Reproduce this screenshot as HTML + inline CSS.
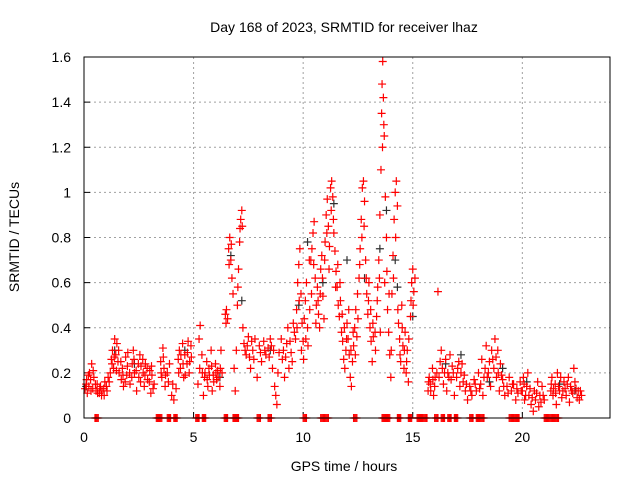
<!DOCTYPE html>
<html><head><meta charset="utf-8"><style>
body{margin:0;background:#fff;}
svg{display:block;font-family:"Liberation Sans",sans-serif;}
</style></head><body>
<svg id="chart" width="640" height="480">
<text x="344" y="32" font-size="14" text-anchor="middle">Day 168 of 2023, SRMTID for receiver lhaz</text>
<text x="344" y="471" font-size="14" text-anchor="middle">GPS time / hours</text>
<text transform="translate(19,237) rotate(-90)" font-size="14" text-anchor="middle">SRMTID / TECUs</text>
<g id="grid"></g><g id="ticks"></g><g id="marks"></g>
<rect x="84" y="57" width="526" height="361" fill="none" stroke="#000" stroke-width="1"/>
</svg>
<script>
const xTicks=[0,5,10,15,20];
const yTicks=[0,0.2,0.4,0.6,0.8,1,1.2,1.4,1.6];
const yTickLabels=["0","0.2","0.4","0.6","0.8","1","1.2","1.4","1.6"];
const redPoints=[[0.05,0.13],[0.1,0.15],[0.15,0.11],[0.2,0.19],[0.25,0.2],[0.3,0.17],[0.35,0.24],[0.4,0.13],[0.45,0.18],[0.55,0.12],[0.6,0.15],[0.7,0.11],[0.75,0.14],[0.8,0.1],[0.9,0.13],[0.95,0.16],[1.05,0.12],[1.1,0.18],[1.2,0.2],[1.25,0.26],[1.3,0.3],[1.35,0.22],[1.4,0.35],[1.45,0.28],[1.5,0.33],[1.55,0.25],[1.6,0.2],[1.7,0.17],[1.75,0.22],[1.8,0.14],[1.9,0.27],[1.95,0.19],[2.0,0.29],[2.1,0.15],[2.2,0.24],[2.25,0.3],[2.3,0.2],[2.4,0.12],[2.5,0.18],[2.55,0.28],[2.6,0.23],[2.7,0.2],[2.75,0.14],[2.8,0.24],[2.9,0.17],[3.0,0.21],[3.05,0.11],[3.1,0.19],[3.2,0.15],[3.5,0.25],[3.55,0.18],[3.6,0.31],[3.65,0.22],[3.7,0.14],[3.8,0.2],[3.9,0.24],[4.0,0.1],[4.05,0.15],[4.1,0.08],[4.2,0.13],[4.3,0.26],[4.35,0.3],[4.4,0.22],[4.5,0.33],[4.55,0.18],[4.6,0.28],[4.7,0.24],[4.75,0.34],[4.8,0.2],[4.9,0.27],[5.2,0.15],[5.25,0.35],[5.3,0.41],[5.4,0.2],[5.45,0.1],[5.5,0.18],[5.6,0.25],[5.65,0.14],[5.7,0.22],[5.8,0.3],[5.85,0.12],[5.9,0.19],[6.0,0.24],[6.05,0.17],[6.1,0.21],[6.2,0.14],[6.25,0.3],[6.3,0.2],[6.45,0.46],[6.5,0.48],[6.55,0.44],[6.6,0.75],[6.65,0.8],[6.7,0.7],[6.75,0.62],[6.8,0.55],[6.85,0.22],[6.9,0.12],[6.95,0.3],[7.0,0.5],[7.05,0.66],[7.1,0.78],[7.15,0.88],[7.2,0.92],[7.25,0.4],[7.3,0.33],[7.4,0.28],[7.5,0.36],[7.6,0.22],[7.7,0.3],[7.8,0.35],[7.9,0.18],[8.0,0.32],[8.1,0.25],[8.2,0.34],[8.3,0.28],[8.4,0.31],[8.5,0.35],[8.6,0.22],[8.7,0.14],[8.75,0.1],[8.8,0.06],[8.85,0.2],[8.9,0.29],[9.0,0.35],[9.1,0.3],[9.15,0.18],[9.2,0.27],[9.3,0.4],[9.35,0.22],[9.4,0.34],[9.5,0.25],[9.55,0.42],[9.6,0.38],[9.7,0.48],[9.75,0.6],[9.8,0.68],[9.85,0.75],[9.9,0.55],[9.95,0.42],[10.0,0.34],[10.05,0.44],[10.1,0.52],[10.15,0.6],[10.2,0.4],[10.3,0.48],[10.35,0.7],[10.4,0.75],[10.45,0.82],[10.5,0.87],[10.55,0.62],[10.6,0.5],[10.65,0.58],[10.7,0.46],[10.75,0.4],[10.8,0.66],[10.85,0.72],[10.9,0.54],[10.95,0.44],[11.0,0.78],[11.05,0.9],[11.1,0.97],[11.15,0.85],[11.2,0.76],[11.25,1.02],[11.3,1.05],[11.35,0.98],[11.4,0.82],[11.45,0.74],[11.5,0.65],[11.55,0.58],[11.6,0.5],[11.65,0.45],[11.7,0.52],[11.75,0.38],[11.8,0.34],[11.85,0.26],[11.9,0.22],[11.95,0.3],[12.0,0.42],[12.05,0.35],[12.1,0.28],[12.15,0.18],[12.2,0.14],[12.25,0.25],[12.3,0.32],[12.35,0.4],[12.4,0.48],[12.45,0.36],[12.5,0.44],[12.55,0.62],[12.6,0.75],[12.65,0.88],[12.7,1.02],[12.75,1.05],[12.8,0.96],[12.85,0.7],[12.9,0.55],[12.95,0.46],[13.0,0.6],[13.05,0.4],[13.1,0.34],[13.15,0.25],[13.2,0.36],[13.3,0.3],[13.35,0.45],[13.4,0.58],[13.45,0.7],[13.5,0.9],[13.55,1.1],[13.58,1.35],[13.6,1.48],[13.63,1.58],[13.66,1.42],[13.7,1.25],[13.75,0.98],[13.8,0.8],[13.85,0.48],[13.9,0.38],[13.95,0.28],[14.0,0.18],[14.05,0.55],[14.1,0.72],[14.15,0.88],[14.2,1.0],[14.25,1.05],[14.3,0.94],[14.35,0.42],[14.4,0.35],[14.45,0.25],[14.5,0.5],[14.55,0.32],[14.6,0.22],[14.65,0.38],[14.7,0.2],[14.75,0.3],[14.8,0.16],[14.9,0.45],[14.95,0.6],[15.0,0.66],[15.05,0.56],[15.1,0.62],[15.7,0.12],[15.75,0.18],[15.8,0.15],[15.9,0.22],[15.95,0.1],[16.0,0.14],[16.1,0.2],[16.15,0.56],[16.2,0.18],[16.3,0.3],[16.35,0.22],[16.4,0.15],[16.5,0.26],[16.55,0.12],[16.6,0.2],[16.7,0.28],[16.75,0.17],[16.8,0.23],[16.9,0.1],[17.0,0.18],[17.1,0.25],[17.15,0.14],[17.2,0.2],[17.3,0.16],[17.4,0.12],[17.5,0.08],[17.6,0.14],[17.7,0.1],[17.8,0.17],[17.9,0.12],[18.0,0.2],[18.1,0.15],[18.15,0.26],[18.2,0.1],[18.3,0.22],[18.35,0.32],[18.4,0.18],[18.5,0.25],[18.55,0.14],[18.6,0.3],[18.7,0.22],[18.75,0.35],[18.8,0.27],[18.9,0.2],[18.95,0.12],[19.0,0.24],[19.1,0.17],[19.2,0.1],[19.3,0.14],[19.4,0.18],[19.5,0.12],[19.6,0.15],[19.7,0.08],[19.8,0.11],[19.9,0.16],[20.0,0.12],[20.05,0.18],[20.1,0.08],[20.2,0.14],[20.25,0.2],[20.3,0.1],[20.4,0.06],[20.5,0.03],[20.55,0.12],[20.6,0.08],[20.7,0.16],[20.75,0.05],[20.8,0.1],[20.9,0.14],[21.0,0.08],[21.3,0.12],[21.35,0.18],[21.4,0.1],[21.5,0.15],[21.55,0.06],[21.6,0.2],[21.7,0.12],[21.8,0.09],[21.9,0.16],[21.95,0.13],[22.0,0.1],[22.1,0.18],[22.15,0.07],[22.2,0.14],[22.3,0.11],[22.35,0.22],[22.4,0.16],[22.5,0.09],[22.55,0.12],[22.6,0.08],[22.7,0.1]];
const redPointsExtra=[[0.12,0.17],[0.22,0.14],[0.32,0.12],[0.42,0.21],[0.52,0.15],[0.62,0.11],[0.72,0.13],[0.82,0.12],[0.92,0.1],[1.02,0.14],[1.15,0.16],[1.28,0.24],[1.38,0.27],[1.48,0.21],[1.58,0.3],[1.68,0.25],[1.78,0.19],[1.88,0.16],[1.98,0.23],[2.08,0.2],[2.18,0.18],[2.28,0.26],[2.38,0.21],[2.48,0.24],[2.58,0.16],[2.68,0.26],[2.78,0.19],[2.88,0.22],[2.98,0.16],[3.08,0.23],[3.15,0.13],[3.52,0.2],[3.62,0.27],[3.72,0.19],[3.85,0.16],[4.32,0.2],[4.42,0.28],[4.52,0.24],[4.62,0.19],[4.72,0.29],[4.82,0.25],[4.88,0.32],[5.28,0.22],[5.38,0.28],[5.52,0.2],[5.62,0.17],[5.72,0.19],[5.82,0.23],[5.92,0.16],[6.02,0.2],[6.12,0.18],[6.22,0.22],[6.48,0.42],[6.62,0.68],[6.72,0.77],[7.02,0.58],[7.12,0.84],[7.22,0.85],[7.35,0.3],[7.45,0.32],[7.55,0.27],[7.65,0.34],[7.75,0.26],[8.05,0.29],[8.25,0.3],[8.45,0.27],[8.55,0.32],[8.65,0.3],[9.05,0.26],[9.25,0.33],[9.45,0.29],[9.65,0.35],[9.72,0.4],[9.82,0.52],[9.92,0.3],[10.02,0.26],[10.12,0.35],[10.22,0.32],[10.28,0.7],[10.38,0.55],[10.48,0.68],[10.58,0.42],[10.68,0.52],[10.78,0.55],[10.88,0.62],[10.98,0.7],[11.08,0.82],[11.18,0.66],[11.28,0.92],[11.38,0.88],[11.48,0.58],[11.58,0.68],[11.68,0.6],[11.78,0.46],[11.88,0.4],[11.98,0.35],[12.08,0.48],[12.18,0.3],[12.28,0.38],[12.38,0.28],[12.48,0.55],[12.58,0.68],[12.68,0.8],[12.78,0.85],[12.88,0.62],[12.98,0.52],[13.08,0.48],[13.18,0.42],[13.28,0.38],[13.38,0.52],[13.48,0.62],[13.52,0.38],[13.62,1.2],[13.68,1.3],[13.72,0.6],[13.82,0.65],[13.92,0.55],[14.02,0.3],[14.12,0.62],[14.22,0.8],[14.32,0.48],[14.42,0.28],[14.52,0.4],[14.62,0.3],[14.72,0.25],[14.82,0.35],[14.92,0.52],[15.02,0.5],[15.72,0.16],[15.82,0.12],[15.92,0.17],[16.02,0.18],[16.25,0.25],[16.45,0.2],[16.65,0.18],[16.85,0.2],[17.05,0.22],[17.25,0.24],[17.35,0.19],[17.45,0.15],[17.65,0.12],[17.85,0.15],[18.05,0.13],[18.25,0.18],[18.45,0.2],[18.65,0.26],[18.82,0.18],[18.88,0.3],[19.05,0.19],[19.15,0.14],[19.35,0.11],[19.55,0.15],[19.75,0.13],[19.95,0.12],[20.08,0.15],[20.15,0.1],[20.35,0.13],[20.45,0.09],[20.65,0.11],[20.85,0.07],[20.95,0.1],[21.32,0.15],[21.42,0.13],[21.52,0.11],[21.65,0.14],[21.75,0.18],[21.85,0.12],[22.05,0.15],[22.25,0.12],[22.45,0.13],[22.65,0.12]];
const zeroHours=[0.5,3.3,3.4,3.8,4.1,5.1,5.4,6.4,6.8,6.9,7.9,8.4,10.0,10.8,11.0,12.3,13.6,13.7,13.8,14.3,14.8,15.2,15.3,15.5,16.0,16.3,16.6,16.9,17.6,17.9,18.1,19.4,19.6,19.7,21.0,21.2,21.35,21.5];
const blackPoints=[[0.1,0.14],[1.4,0.3],[2.3,0.24],[4.6,0.3],[6.2,0.18],[6.7,0.72],[7.2,0.52],[8.5,0.3],[9.8,0.5],[10.2,0.78],[10.9,0.6],[11.4,0.95],[12.0,0.7],[12.8,0.62],[13.5,0.75],[13.8,0.92],[14.2,0.7],[14.3,0.58],[15.0,0.45],[16.5,0.24],[17.2,0.28],[18.5,0.16],[19.1,0.22],[20.2,0.16],[21.7,0.15],[22.4,0.12]];
const X0=84,X1=610,Y0=418,Y1=57,XMAX=24,YMAX=1.6;
const sx=h=>X0+(h/XMAX)*(X1-X0);
const sy=v=>Y0-(v/YMAX)*(Y0-Y1);
const NS="http://www.w3.org/2000/svg";
const grid=document.getElementById('grid'),ticks=document.getElementById('ticks'),marks=document.getElementById('marks');
function mk(tag,attrs,parent){const e=document.createElementNS(NS,tag);for(const k in attrs)e.setAttribute(k,attrs[k]);parent.appendChild(e);return e;}
xTicks.forEach(t=>{const x=sx(t);
 if(t>0){const g=mk('line',{x1:x,x2:x,y1:Y1,y2:Y0,stroke:'#a0a0a0','stroke-dasharray':'2,3'},grid);
 
 }
 const tl=mk('line',{x1:x,x2:x,y1:Y0,y2:Y0-6,stroke:'#000'},ticks);
 
 
 const tt=mk('text',{x:x,y:Y0+24,'font-size':'14','text-anchor':'middle'},ticks);tt.textContent=String(t);
 
 });
yTicks.forEach((t,i)=>{const y=sy(t);
 if(t>0&&t<YMAX){const g=mk('line',{x1:X0,x2:X1,y1:y,y2:y,stroke:'#a0a0a0','stroke-dasharray':'2,3'},grid);
 
 }
 const tl=mk('line',{x1:X0,x2:X0+6,y1:y,y2:y,stroke:'#000'},ticks);
 
 
 const tt=mk('text',{x:X0-13,y:y+5,'font-size':'14','text-anchor':'end'},ticks);tt.textContent=yTickLabels[i];
 
 });
function plus(h,v,color,name){const x=sx(h),y=sy(v);
 const p=mk('path',{d:`M${x-4},${y}h8M${x},${y-4}v8`,stroke:color,'stroke-width':'1.2',fill:'none'},marks);
 
 }
blackPoints.forEach(p=>plus(p[0],p[1],'#303030','black-point'));
redPoints.forEach(p=>plus(p[0],p[1],'#ff0000','red-point'));
redPointsExtra.forEach(p=>plus(p[0],p[1],'#ff0000','red-point'));
zeroHours.forEach(h=>{[0,0.05,0.1,0.15].forEach(d=>plus(h+d,0,'#ff0000','zero-point'));});
</script>
</body></html>
